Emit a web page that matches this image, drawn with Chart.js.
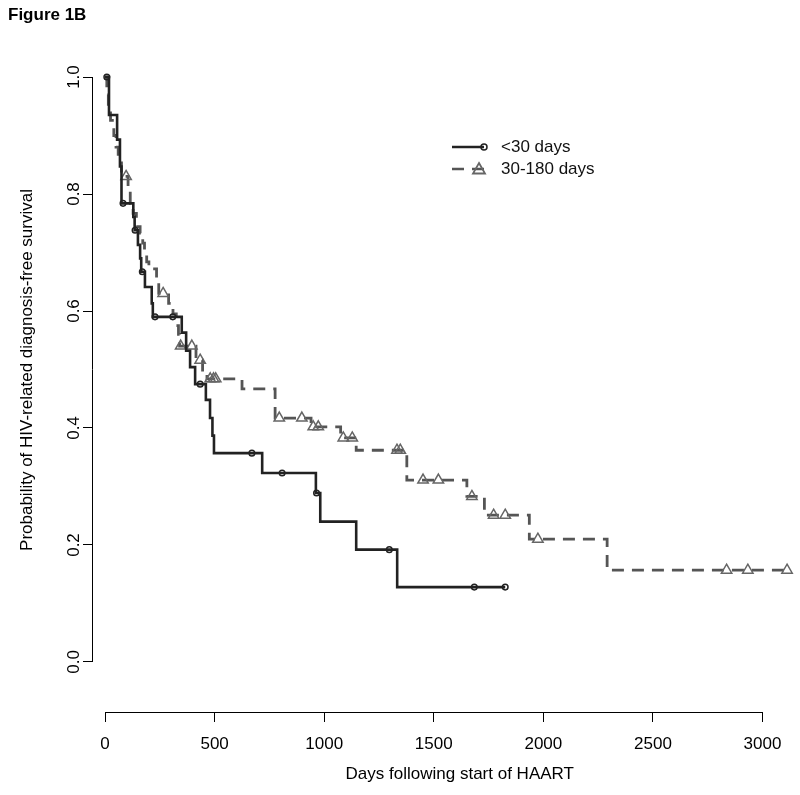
<!DOCTYPE html>
<html>
<head>
<meta charset="utf-8">
<title>Figure 1B</title>
<script src="https://cdn.jsdelivr.net/npm/chart.js@4.4.1/dist/chart.umd.min.js"></script>
<style>
  html, body { margin: 0; padding: 0; background: #fff; overflow: hidden; }
  #wrap { position: relative; width: 834px; height: 795px; }
</style>
</head>
<body>
<div id="wrap"><canvas id="km"></canvas></div>
<script>
// <30 days group: event times (days) and survival after each step
const shortDays = [0, 18, 55, 68, 75, 129, 135, 150, 160, 165, 182, 213, 218, 350, 370, 388, 411, 460, 479, 490, 497, 717, 962, 982, 1146, 1333, 1826];
const shortSurv = [1.0, 0.935, 0.893, 0.847, 0.784, 0.761, 0.738, 0.713, 0.690, 0.667, 0.641, 0.613, 0.590, 0.563, 0.532, 0.504, 0.475, 0.448, 0.417, 0.387, 0.357, 0.323, 0.289, 0.240, 0.192, 0.128, 0.128];
const shortCensorDays = [8, 82, 137, 170, 228, 309, 434, 670, 808, 965, 1297, 1685, 1826];
const shortCensorSurv = [1.0, 0.784, 0.738, 0.667, 0.590, 0.590, 0.475, 0.357, 0.323, 0.289, 0.192, 0.128, 0.128];

// 30-180 days group
const longDays = [0, 8, 15, 25, 40, 50, 60, 75, 105, 115, 128, 143, 160, 172, 180, 190, 200, 235, 245, 290, 310, 325, 335, 340, 415, 445, 465, 625, 776, 940, 1075, 1146, 1377, 1651, 1731, 1936, 2291, 3112];
const longSurv = [1.0, 0.97, 0.95, 0.926, 0.90, 0.88, 0.853, 0.83, 0.807, 0.784, 0.767, 0.744, 0.733, 0.716, 0.704, 0.684, 0.672, 0.655, 0.630, 0.613, 0.595, 0.575, 0.56, 0.54, 0.516, 0.496, 0.484, 0.467, 0.417, 0.402, 0.383, 0.362, 0.311, 0.283, 0.251, 0.21, 0.157, 0.157];
const longCensorDays = [96, 265, 345, 396, 434, 480, 495, 505, 795, 898, 950, 973, 1087, 1128, 1332, 1347, 1451, 1521, 1674, 1773, 1826, 1975, 2836, 2933, 3112];
const longCensorSurv = [0.83, 0.630, 0.54, 0.54, 0.516, 0.484, 0.484, 0.484, 0.417, 0.417, 0.402, 0.402, 0.383, 0.383, 0.362, 0.362, 0.311, 0.311, 0.283, 0.251, 0.251, 0.21, 0.157, 0.157, 0.157];

const xTicks = [0, 500, 1000, 1500, 2000, 2500, 3000];
const yTicks = [0, 0.2, 0.4, 0.6, 0.8, 1.0];
const seriesLabels = ['<30 days', '30-180 days'];

const SOLID = '#222';
const DASHED = '#555';
const TRI = '#666';

const pts = (xs, ys) => xs.map((x, i) => ({ x: x, y: ys[i] }));

Chart.defaults.font.family = '"Liberation Sans", Arial, Helvetica, sans-serif';
Chart.defaults.color = '#000';

// R-style axis lines that only span the tick range
const axisLines = {
  id: 'axisLines',
  afterDraw(chart) {
    const { ctx, chartArea } = chart;
    const x = chart.scales.x, y = chart.scales.y;
    ctx.save();
    ctx.strokeStyle = '#000';
    ctx.lineWidth = 1;
    ctx.beginPath();
    const xb = Math.round(chartArea.bottom) + 0.5;
    ctx.moveTo(x.getPixelForValue(xTicks[0]), xb);
    ctx.lineTo(x.getPixelForValue(xTicks[xTicks.length - 1]), xb);
    const yl = Math.round(chartArea.left) - 0.5;
    ctx.moveTo(yl, y.getPixelForValue(yTicks[0]));
    ctx.lineTo(yl, y.getPixelForValue(yTicks[yTicks.length - 1]));
    ctx.stroke();
    ctx.restore();
  }
};

// legend: line sample + marker + label
const kmLegend = {
  id: 'kmLegend',
  afterDraw(chart) {
    const { ctx } = chart;
    const x0 = 452, x1 = 484, y0 = 147, gap = 22;
    ctx.save();
    ctx.lineWidth = 2.5;
    // row 1 solid
    ctx.strokeStyle = SOLID;
    ctx.beginPath(); ctx.moveTo(x0, y0); ctx.lineTo(x1, y0); ctx.stroke();
    ctx.lineWidth = 1.5;
    ctx.beginPath(); ctx.arc(x1, y0, 3, 0, Math.PI * 2); ctx.stroke();
    // row 2 dashed
    const y1 = y0 + gap;
    ctx.strokeStyle = DASHED;
    ctx.lineWidth = 2.5;
    ctx.setLineDash([12, 8]);
    ctx.beginPath(); ctx.moveTo(x0, y1); ctx.lineTo(x1, y1); ctx.stroke();
    ctx.setLineDash([]);
    ctx.strokeStyle = TRI;
    ctx.lineWidth = 1.8;
    ctx.beginPath();
    ctx.moveTo(x1 - 5, y1 - 6); ctx.lineTo(x1 + 1, y1 + 4.5); ctx.lineTo(x1 - 11, y1 + 4.5); ctx.closePath();
    ctx.stroke();
    ctx.fillStyle = '#111';
    ctx.font = '17px "Liberation Sans", Arial, sans-serif';
    ctx.textBaseline = 'middle';
    ctx.textAlign = 'left';
    ctx.fillText(seriesLabels[0], 501, y0);
    ctx.fillText(seriesLabels[1], 501, y1);
    ctx.restore();
  }
};

new Chart(document.getElementById('km'), {
  type: 'line',
  data: {
    datasets: [
      {
        label: seriesLabels[0] + ' censored',
        data: pts(shortCensorDays, shortCensorSurv),
        showLine: false,
        pointStyle: 'circle',
        pointRadius: 2.8,
        pointBorderWidth: 1.5,
        pointBorderColor: SOLID,
        pointBackgroundColor: 'rgba(255,255,255,0)'
      },
      {
        label: seriesLabels[0],
        data: pts(shortDays, shortSurv),
        stepped: true,
        borderColor: SOLID,
        borderWidth: 2.6,
        pointRadius: 0,
        fill: false
      },
      {
        label: seriesLabels[1] + ' censored',
        data: pts(longCensorDays, longCensorSurv),
        showLine: false,
        pointStyle: 'triangle',
        pointRadius: 6,
        pointBorderWidth: 1.5,
        pointBorderColor: TRI,
        pointBackgroundColor: 'rgba(255,255,255,0)'
      },
      {
        label: seriesLabels[1],
        data: pts(longDays, longSurv),
        stepped: true,
        borderColor: DASHED,
        borderWidth: 2.8,
        borderDash: [12, 8],
        pointRadius: 0,
        fill: false
      }
    ]
  },
  options: {
    responsive: true,
    maintainAspectRatio: false,
    animation: false,
    events: [],
    layout: { padding: { left: 8, right: 1, top: 0, bottom: 0 } },
    plugins: {
      legend: { display: false },
      tooltip: { enabled: false },
      title: {
        display: true,
        text: 'Figure 1B',
        align: 'start',
        color: '#000',
        font: { size: 17, weight: 'bold' },
        padding: { top: 5, bottom: 2.6 }
      }
    },
    scales: {
      x: {
        type: 'linear',
        min: -55,
        max: 3292,
        afterBuildTicks: (s) => { s.ticks = xTicks.map(v => ({ value: v })); },
        afterFit: (s) => { s.height = 83; },
        border: { display: false },
        grid: { drawOnChartArea: false, drawTicks: true, tickLength: 10, color: '#000', lineWidth: 1 },
        ticks: {
          autoSkip: false,
          maxRotation: 0,
          padding: 12,
          color: '#000',
          font: { size: 17 },
          callback: (v) => String(v)
        },
        title: {
          display: true,
          text: 'Days following start of HAART',
          color: '#000',
          font: { size: 17 },
          padding: { top: 0, bottom: 10 }
        }
      },
      y: {
        type: 'linear',
        min: -0.0855,
        max: 1.0838,
        afterBuildTicks: (s) => { s.ticks = yTicks.map(v => ({ value: v })); },
        afterFit: (s) => { s.width = 85; },
        border: { display: false },
        grid: { drawOnChartArea: false, drawTicks: true, tickLength: 10, color: '#000', lineWidth: 1 },
        ticks: {
          autoSkip: false,
          minRotation: 90,
          maxRotation: 90,
          crossAlign: 'center',
          padding: -3,
          color: '#000',
          font: { size: 17 },
          callback: (v) => v.toFixed(1)
        },
        title: {
          display: true,
          text: 'Probability of HIV-related diagnosis-free survival',
          color: '#000',
          font: { size: 17 },
          padding: { top: 9, bottom: 0 }
        }
      }
    }
  },
  plugins: [axisLines, kmLegend]
});
</script>
</body>
</html>
